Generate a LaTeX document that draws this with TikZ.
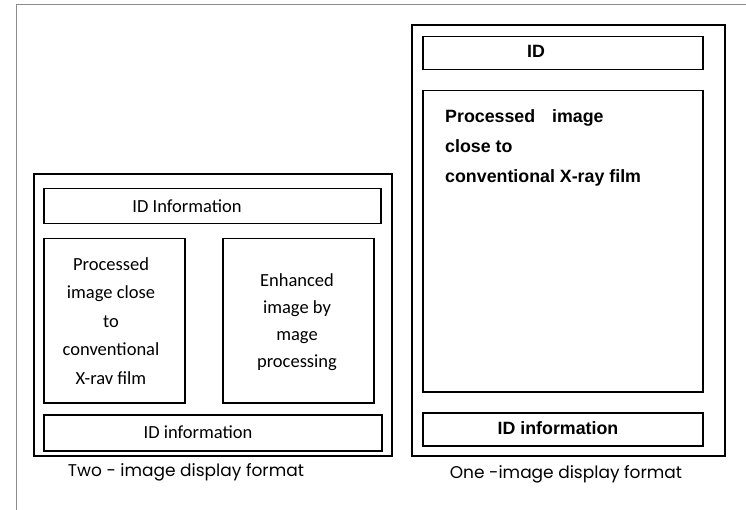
\documentclass[tikz,border=0pt]{standalone}
\usepackage{fontspec}
\newfontfamily\narrowfont{Carlito}
\newfontfamily\arialfont{Liberation Sans}
\newfontfamily\capfont{Poppins}
\begin{document}
\begin{tikzpicture}[x=1pt,y=-1pt,
  frame/.style={draw=black!45, line width=0.8pt},
  panel/.style={draw, line width=1.6pt, inner sep=0pt, anchor=north west},
  field/.style={draw, line width=1.5pt, inner sep=0pt, anchor=north west},
  ltext/.style={font=\narrowfont\fontsize{18.5}{28.5}\selectfont, align=center, inner sep=0pt},
  rtext/.style={font=\arialfont\bfseries\fontsize{17.8}{30}\selectfont, inner sep=0pt},
  caption/.style={font=\capfont\fontsize{17}{20}\selectfont, inner sep=0pt}]
  \useasboundingbox (0,0) rectangle (746,510);
  % page frame
  \coordinate (f0) at (16,510);
  \coordinate (f1) at (16,4);
  \coordinate (f2) at (746,4);
  \draw[frame] (f0) -- (f1) -- (f2);

  % two-image display format
  \node[panel, minimum width=358, minimum height=282] (lpanel) at (33,173) {};
  \node[field, minimum width=337, minimum height=35] (lid) at (43,188) {};
  \node[ltext] (lidt) at (187,206) {ID Information};
  \node[field, minimum width=141, minimum height=164] (limgA) at (43,238) {};
  \node[ltext] (limgAt) at (111,321) {Processed\\image close\\to\\conventional\\X-rav film};
  \node[field, minimum width=151, minimum height=164] (limgB) at (222,238) {};
  \node[ltext, font=\narrowfont\fontsize{18.5}{27}\selectfont] (limgBt) at (297,322)
    {Enhanced\\image by\\mage\\processing};
  \node[field, minimum width=338, minimum height=36] (linfo) at (43,414) {};
  \node[ltext] (linfot) at (198,432) {ID information};
  \node[caption] (lcap) at (186,472) {Two - image display format};

  % one-image display format
  \node[panel, minimum width=313, minimum height=431] (rpanel) at (411,24) {};
  \node[field, minimum width=280, minimum height=33] (rid) at (422,36) {};
  \node[rtext] (ridt) at (536,51) {ID};
  \node[field, minimum width=280, minimum height=301] (rimg) at (422,90) {};
  \node[rtext, anchor=west, align=left] (rimgt) at (445,148)
    {Processed\hspace{0.95em}image\\close to\\conventional X-ray film};
  \node[field, minimum width=280, minimum height=33] (rinfo) at (422,412) {};
  \node[rtext] (rinfot) at (558,428) {ID information};
  \node[caption] (rcap) at (566,474) {One -image display format};
\end{tikzpicture}
\end{document}
